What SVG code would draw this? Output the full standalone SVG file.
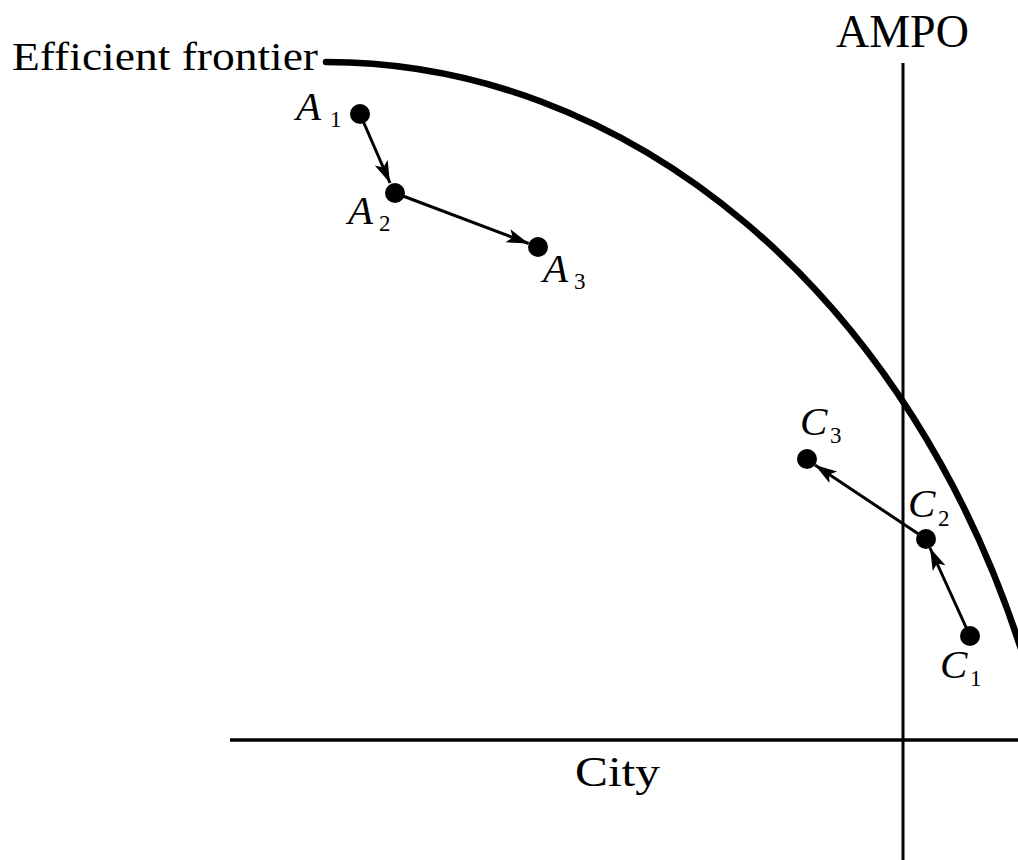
<svg xmlns="http://www.w3.org/2000/svg" width="1018" height="860" viewBox="0 0 1018 860">
<style>
.lbl{font-family:"Liberation Serif","Times New Roman",serif;fill:#000}
.it{font-style:italic;font-size:41px}
.sub{font-size:23px}
.dot{fill:#000}
.arr{stroke:#000;stroke-width:3;fill:none;marker-end:url(#ah)}
.axis{stroke:#000;stroke-width:3;fill:none}
</style>
<defs>
<marker id="ah" markerUnits="userSpaceOnUse" markerWidth="24" markerHeight="16" refX="22" refY="7" orient="auto" viewBox="0 0 24 14">
<path d="M0,0 L22,7 L0,14 L5,7 z" fill="#000"/>
</marker>
</defs>
<rect width="1018" height="860" fill="#fff"/>
<g id="axes">
<line class="axis" x1="903" y1="63" x2="903" y2="860"/>
<line class="axis" x1="230" y1="740" x2="1018" y2="740" style="stroke-width:3.5"/>
<text class="lbl" x="836" y="47" font-size="46">AMPO</text>
<text class="lbl" x="575" y="786" font-size="42" textLength="85" lengthAdjust="spacingAndGlyphs">City</text>
</g>
<g id="frontier">
<path d="M326,62 A750,940 0 0 1 1022,652" stroke="#000" stroke-width="6.5" fill="none" stroke-linecap="round"/>
<text class="lbl" x="12" y="70" font-size="40" textLength="306" lengthAdjust="spacingAndGlyphs">Efficient frontier</text>
</g>
<g id="connectors">
<line class="arr" x1="360" y1="114" x2="390" y2="183"/>
<line class="arr" x1="395" y1="193" x2="528.6" y2="243.5"/>
<line class="arr" x1="970" y1="636" x2="930" y2="548"/>
<line class="arr" x1="926" y1="539" x2="815" y2="465"/>
</g>
<g id="A1">
<circle class="dot" cx="360" cy="114" r="10"/>
<text class="lbl it" x="296" y="120">A</text><text class="lbl sub" x="330" y="127">1</text>
</g>
<g id="A2">
<circle class="dot" cx="395" cy="193" r="10"/>
<text class="lbl it" x="348" y="224">A</text><text class="lbl sub" x="379" y="231">2</text>
</g>
<g id="A3">
<circle class="dot" cx="538" cy="247" r="10"/>
<text class="lbl it" x="543" y="282">A</text><text class="lbl sub" x="574" y="289">3</text>
</g>
<g id="C1">
<circle class="dot" cx="970" cy="636" r="10"/>
<text class="lbl it" x="940" y="678">C</text><text class="lbl sub" x="970" y="686">1</text>
</g>
<g id="C2">
<circle class="dot" cx="926" cy="539" r="10"/>
<text class="lbl it" x="908" y="517">C</text><text class="lbl sub" x="938" y="526">2</text>
</g>
<g id="C3">
<circle class="dot" cx="807" cy="459" r="10"/>
<text class="lbl it" x="800" y="435">C</text><text class="lbl sub" x="830" y="443">3</text>
</g>
</svg>
